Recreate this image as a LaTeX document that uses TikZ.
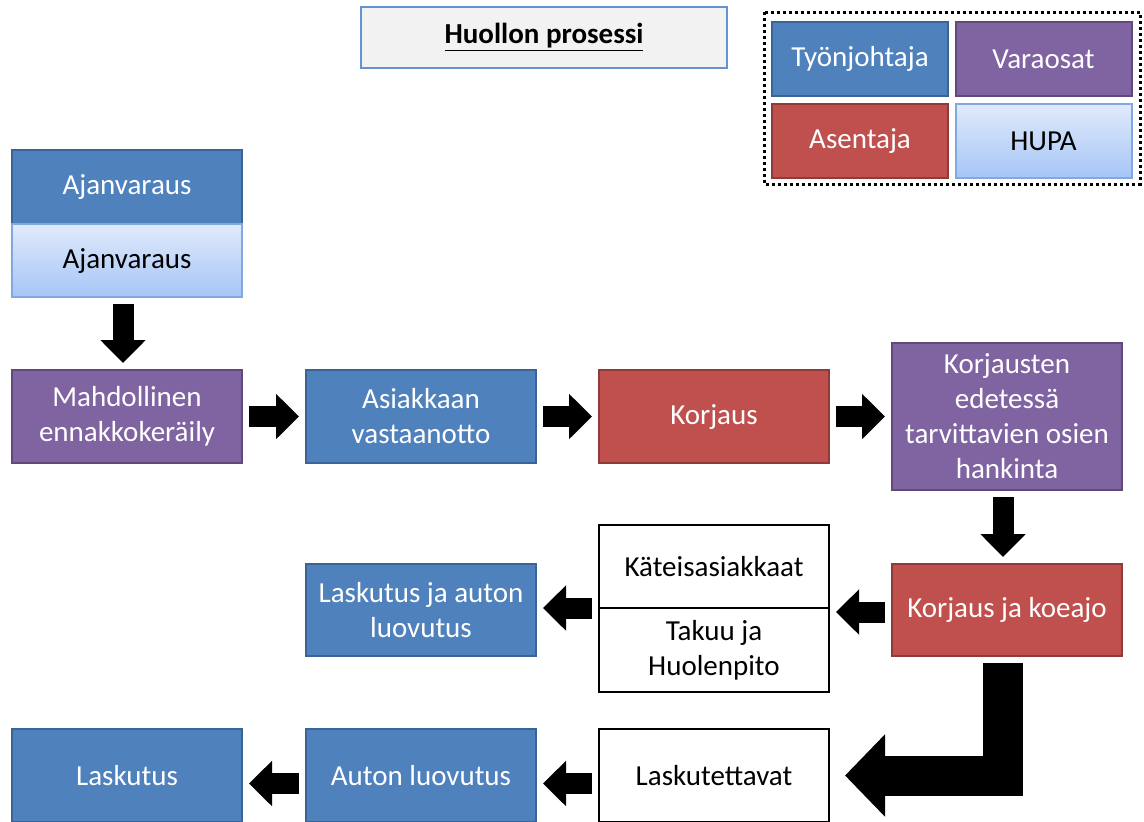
\documentclass[tikz,border=0pt]{standalone}
\usepackage{fontspec}
\setmainfont{Carlito}
\usetikzlibrary{arrows.meta}

\definecolor{tjblue}{HTML}{4F81BD}
\definecolor{tjedge}{HTML}{3A6397}
\definecolor{vapurple}{HTML}{8064A2}
\definecolor{vaedge}{HTML}{5F4A7A}
\definecolor{asred}{HTML}{C0504D}
\definecolor{asedge}{HTML}{8E3B39}
\definecolor{hutop}{HTML}{E0EAFB}
\definecolor{hubot}{HTML}{A6C5F6}
\definecolor{huedge}{HTML}{82A8E0}
\definecolor{tigray}{HTML}{F2F2F2}
\definecolor{tiedge}{HTML}{6492D2}

\tikzset{
  box/.style={rectangle, inner sep=0pt, outer sep=0pt, line width=1pt, align=center,
    minimum width=115pt, font=\fontsize{14.5}{17.5}\selectfont},
  tyo/.style={box, fill=tjblue, draw=tjedge, text=white},
  vara/.style={box, fill=vapurple, draw=vaedge, text=white},
  asen/.style={box, fill=asred, draw=asedge, text=white},
  hupa/.style={box, top color=hutop, bottom color=hubot, draw=huedge, text=black},
  plain/.style={box, fill=white, draw=black, line width=1.3pt},
  blk/.style={line width=10.5pt, -{Triangle[length=11.5pt,width=22pt]},
    shorten <=3.5pt, shorten >=3.5pt},
}

\begin{document}
\begin{tikzpicture}[x=0.5pt,y=-0.5pt]
\useasboundingbox (0,0) rectangle (1144,821);

\node[box, fill=tigray, draw=tiedge, line width=1.3pt, minimum width=183pt, minimum height=30.5pt]
  (title) at (544,37.5) {\textbf{\underline{Huollon prosessi}}};

\draw[line width=1.5pt, dash pattern=on 1.5pt off 1.5pt] (764,12) rectangle (1140,184);
\node[tyo, minimum width=88pt, minimum height=37pt] (lgtyo) at (860,59) {Työnjohtaja};
\node[vara, minimum width=88pt, minimum height=37pt] (lgvara) at (1043.5,59) {Varaosat};
\node[asen, minimum width=88pt, minimum height=37pt] (lgasen) at (860,141) {Asentaja};
\node[hupa, minimum width=88pt, minimum height=37pt] (lghupa) at (1043.5,141) {HUPA};

\node[tyo, minimum height=37pt] (ajt) at (127,187) {Ajanvaraus};
\node[hupa, minimum height=36.5pt] (ajh) at (127,260.5) {Ajanvaraus};

\node[vara, minimum height=46.5pt] (ennakko) at (127,416.5) {Mahdollinen\\ennakkokeräily};
\node[tyo, minimum height=46.5pt] (vastaanotto) at (421,416.5) {Asiakkaan\\vastaanotto};
\node[asen, minimum height=46.5pt] (korjaus) at (714,416.5) {Korjaus};
\node[vara, minimum height=73.5pt] (hankinta) at (1007,416.5) {Korjausten\\edetessä\\tarvittavien osien\\hankinta};

\node[asen, minimum height=46pt] (koeajo) at (1007,610) {Korjaus ja koeajo};
\node[plain, minimum height=41.5pt] (kateis) at (714,566.5) {Käteisasiakkaat};
\node[plain, minimum height=42pt] (takuu) at (714,650) {Takuu ja\\Huolenpito};
\node[tyo, minimum height=46pt] (lasluov) at (421,610) {Laskutus ja auton\\luovutus};

\node[plain, minimum height=46.5pt] (laskutettavat) at (714,775.5) {Laskutettavat};
\node[tyo, minimum height=46.5pt] (luovutus) at (421,775.5) {Auton luovutus};
\node[tyo, minimum height=46.5pt] (laskutus) at (127,775.5) {Laskutus};

\draw[blk] ([xshift=-2pt]ajh.south) -- ([xshift=-2pt]ennakko.north);
\draw[blk] (ennakko.east) -- (vastaanotto.west);
\draw[blk] (vastaanotto.east) -- (korjaus.west);
\draw[blk] (korjaus.east) -- (hankinta.west);
\draw[blk] ([xshift=-2pt]hankinta.south) -- ([xshift=-2pt]koeajo.north);
\draw[blk] ([yshift=-1pt]koeajo.west) -- ([yshift=-1pt]koeajo.west -| takuu.east);
\draw[blk] (kateis.south west) -- (kateis.south west -| lasluov.east);
\draw[line width=20pt, line join=miter, -{Triangle[length=20pt,width=40pt]},
  shorten <=3.5pt, shorten >=8pt] ([xshift=-2pt]koeajo.south) |- (laskutettavat.east);
\draw[blk] ([yshift=-4pt]laskutettavat.west) -- ([yshift=-4pt]luovutus.east);
\draw[blk] ([yshift=-4pt]luovutus.west) -- ([yshift=-4pt]laskutus.east);
\end{tikzpicture}
\end{document}
